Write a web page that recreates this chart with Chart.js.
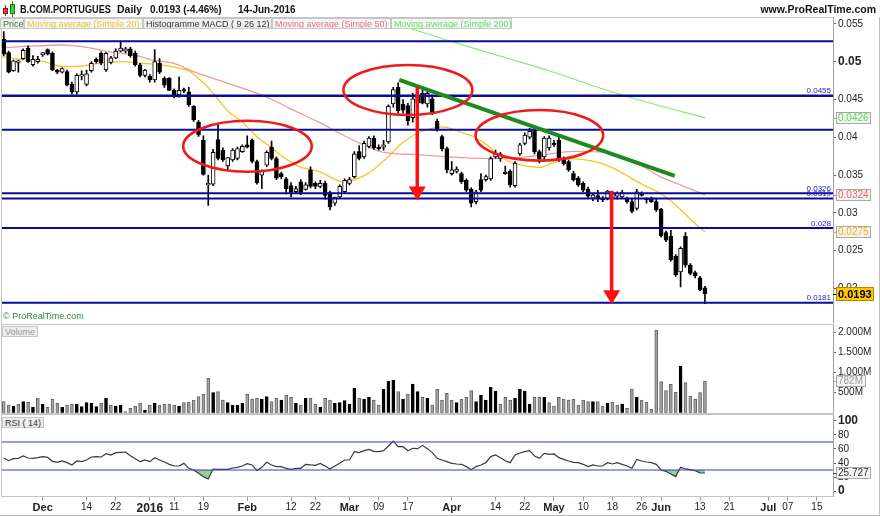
<!DOCTYPE html>
<html>
<head>
<meta charset="utf-8">
<script src="https://cdn.jsdelivr.net/npm/chart.js@4.4.1/dist/chart.umd.min.js"></script>
<style>
body { margin: 0; background: #fff; font-family: "Liberation Sans", Arial, sans-serif; }
#wrap { position: relative; width: 880px; height: 516px; overflow: hidden; background: #fff; }
canvas { position: absolute; left: 0; }
.t { position: absolute; white-space: nowrap; }
.title { top: 3px; font-size: 10.5px; font-weight: bold; line-height: 12px; color: #111; }
.lg { position: absolute; top: 18px; height: 11px; line-height: 10px; font-size: 9px; background: #efefef;
      border: 1px solid #c6c6c6; box-sizing: border-box; padding-left: 2px; overflow: hidden; white-space: nowrap; }
.tag { position: absolute; height: 11px; line-height: 10px; font-size: 9px; background: #ededed;
       border: 1px solid #c6c6c6; box-sizing: border-box; padding: 0 2px; white-space: nowrap; }
</style>
</head>
<body>
<div id="wrap">
  <canvas id="price" width="880" height="323" style="top:0"></canvas>
  <canvas id="volume" width="880" height="91" style="top:323px"></canvas>
  <canvas id="rsi" width="880" height="102" style="top:414px"></canvas>

  <div style="position:absolute;left:0;top:17px;width:880px;height:499px;border-right:1px solid #bcbcbc;border-bottom:1px solid #bcbcbc;box-sizing:border-box;pointer-events:none"></div>

  <!-- icon -->
  <div style="position:absolute;left:5px;top:5px;width:1px;height:11px;background:#a02020"></div>
  <div style="position:absolute;left:3px;top:8px;width:5px;height:6px;background:#e03c3c;border:1px solid #901818;box-sizing:border-box"></div>
  <div style="position:absolute;left:12px;top:1px;width:1px;height:16px;background:#1a8a1a"></div>
  <div style="position:absolute;left:10px;top:4px;width:5px;height:10px;background:#3ccf3c;border:1px solid #1a7a1a;box-sizing:border-box"></div>

  <div class="t title" style="left:20px;transform:scaleX(0.87);transform-origin:0 0">B.COM.PORTUGUES</div>
  <div class="t title" style="left:117px">Daily</div>
  <div class="t title" style="left:150px;transform:scaleX(0.95);transform-origin:0 0">0.0193 (-4.46%)</div>
  <div class="t title" style="left:238px;transform:scaleX(0.95);transform-origin:0 0">14-Jun-2016</div>
  <div class="t title" style="right:4px">www.ProRealTime.com</div>

  <div class="lg" style="left:0;width:24px;color:#3a7d3a">Price</div>
  <div class="lg" style="left:24px;width:119px;color:#f0bf2a;background:#f6f6f6">Moving average (Simple 20)</div>
  <div class="lg" style="left:143px;width:129px;color:#333">Histogramme MACD ( 9 26 12)</div>
  <div class="lg" style="left:272px;width:119px;color:#e57373;background:#f6f6f6">Moving average (Simple 50)</div>
  <div class="lg" style="left:391px;width:121px;color:#5fe05f;background:#f6f6f6">Moving average (Simple 200)</div>

  <div class="t" style="left:3px;top:311px;font-size:9px;color:#2e8b2e">© ProRealTime.com</div>
  <div class="tag" style="left:2px;top:326px;color:#9a9a9a">Volume</div>
  <div class="tag" style="left:2px;top:417px;color:#333">RSI ( 14)</div>
</div>

<script>
// ---- daily candles, 19-Nov-2015 .. 14-Jun-2016 (index = trading day) ----
var opens = [
  0.0530,0.0512,0.0488,0.0499,0.0504,0.0518,0.0496,0.0500,0.0509,0.0516,
  0.0511,0.0489,0.0486,0.0487,0.0470,0.0460,0.0481,0.0470,0.0488,0.0503,
  0.0511,0.0489,0.0499,0.0505,0.0514,0.0514,0.0517,0.0511,0.0496,0.0482,
  0.0481,0.0476,0.0498,0.0478,0.0478,0.0462,0.0456,0.0463,0.0460,0.0441,
  0.0420,0.0396,0.0337,0.0338,0.0397,0.0383,0.0362,0.0370,0.0372,0.0381,
  0.0390,0.0396,0.0368,0.0350,0.0363,0.0387,0.0372,0.0352,0.0345,0.0336,
  0.0328,0.0341,0.0331,0.0357,0.0339,0.0335,0.0339,0.0327,0.0313,0.0321,
  0.0328,0.0339,0.0348,0.0381,0.0374,0.0388,0.0399,0.0387,0.0387,0.0394,
  0.0444,0.0466,0.0444,0.0442,0.0426,0.0445,0.0458,0.0444,0.0451,0.0421,
  0.0401,0.0385,0.0352,0.0355,0.0352,0.0343,0.0331,0.0315,0.0344,0.0344,
  0.0345,0.0374,0.0372,0.0354,0.0355,0.0336,0.0378,0.0392,0.0400,0.0411,
  0.0381,0.0374,0.0386,0.0392,0.0396,0.0372,0.0368,0.0352,0.0346,0.0339,
  0.0331,0.0319,0.0323,0.0319,0.0319,0.0319,0.0322,0.0321,0.0319,0.0315,
  0.0306,0.0325,0.0318,0.0319,0.0315,0.0305,0.0274,0.0269,0.0243,0.0222,
  0.0269,0.0231,0.0221,0.0214,0.0201
];
var highs = [
  0.0540,0.0514,0.0502,0.0502,0.0517,0.0521,0.0508,0.0507,0.0512,0.0517,
  0.0513,0.0490,0.0492,0.0489,0.0473,0.0484,0.0488,0.0489,0.0500,0.0505,
  0.0513,0.0512,0.0507,0.0517,0.0526,0.0519,0.0519,0.0514,0.0498,0.0490,
  0.0483,0.0516,0.0504,0.0480,0.0479,0.0464,0.0480,0.0465,0.0466,0.0442,
  0.0422,0.0402,0.0350,0.0384,0.0416,0.0386,0.0373,0.0385,0.0387,0.0390,
  0.0402,0.0398,0.0370,0.0357,0.0382,0.0395,0.0374,0.0354,0.0347,0.0340,
  0.0335,0.0344,0.0340,0.0361,0.0341,0.0343,0.0342,0.0329,0.0321,0.0337,
  0.0345,0.0347,0.0381,0.0389,0.0395,0.0401,0.0402,0.0390,0.0396,0.0443,
  0.0466,0.0472,0.0450,0.0445,0.0458,0.0460,0.0462,0.0462,0.0456,0.0424,
  0.0403,0.0387,0.0368,0.0361,0.0354,0.0345,0.0333,0.0330,0.0352,0.0350,
  0.0374,0.0383,0.0380,0.0362,0.0357,0.0368,0.0392,0.0406,0.0412,0.0413,
  0.0383,0.0401,0.0402,0.0396,0.0400,0.0374,0.0370,0.0355,0.0348,0.0341,
  0.0334,0.0326,0.0330,0.0322,0.0330,0.0329,0.0328,0.0330,0.0321,0.0318,
  0.0331,0.0328,0.0320,0.0321,0.0318,0.0306,0.0276,0.0277,0.0245,0.0255,
  0.0274,0.0233,0.0223,0.0216,0.0203
];
var lows = [
  0.0508,0.0485,0.0487,0.0486,0.0503,0.0499,0.0494,0.0498,0.0507,0.0509,
  0.0488,0.0484,0.0485,0.0468,0.0457,0.0457,0.0476,0.0468,0.0486,0.0498,
  0.0496,0.0487,0.0497,0.0504,0.0513,0.0512,0.0506,0.0494,0.0480,0.0480,
  0.0473,0.0473,0.0484,0.0466,0.0462,0.0452,0.0453,0.0459,0.0441,0.0421,
  0.0401,0.0350,0.0310,0.0336,0.0370,0.0368,0.0356,0.0368,0.0370,0.0380,
  0.0386,0.0366,0.0338,0.0332,0.0361,0.0370,0.0344,0.0345,0.0325,0.0321,
  0.0326,0.0324,0.0330,0.0333,0.0332,0.0333,0.0318,0.0304,0.0310,0.0319,
  0.0326,0.0337,0.0346,0.0370,0.0372,0.0386,0.0384,0.0383,0.0383,0.0392,
  0.0440,0.0432,0.0432,0.0416,0.0420,0.0440,0.0444,0.0440,0.0430,0.0408,
  0.0382,0.0353,0.0350,0.0353,0.0339,0.0328,0.0308,0.0312,0.0328,0.0342,
  0.0343,0.0372,0.0368,0.0351,0.0334,0.0334,0.0376,0.0390,0.0398,0.0378,
  0.0366,0.0368,0.0383,0.0388,0.0368,0.0363,0.0355,0.0342,0.0335,0.0328,
  0.0319,0.0316,0.0315,0.0315,0.0317,0.0317,0.0318,0.0319,0.0313,0.0300,
  0.0304,0.0322,0.0313,0.0314,0.0302,0.0268,0.0262,0.0236,0.0216,0.0202,
  0.0228,0.0218,0.0214,0.0197,0.0180
];
var closes = [
  0.0510,0.0486,0.0501,0.0501,0.0515,0.0500,0.0503,0.0503,0.0512,0.0510,
  0.0489,0.0486,0.0491,0.0469,0.0460,0.0482,0.0483,0.0484,0.0498,0.0500,
  0.0498,0.0511,0.0505,0.0514,0.0518,0.0517,0.0508,0.0496,0.0482,0.0489,
  0.0476,0.0500,0.0486,0.0469,0.0462,0.0454,0.0462,0.0461,0.0443,0.0423,
  0.0403,0.0351,0.0339,0.0380,0.0372,0.0370,0.0373,0.0383,0.0385,0.0388,
  0.0387,0.0368,0.0340,0.0355,0.0380,0.0372,0.0346,0.0348,0.0332,0.0327,
  0.0332,0.0327,0.0337,0.0335,0.0335,0.0339,0.0323,0.0308,0.0321,0.0335,
  0.0343,0.0344,0.0378,0.0372,0.0392,0.0399,0.0386,0.0385,0.0390,0.0441,
  0.0463,0.0435,0.0436,0.0422,0.0451,0.0455,0.0445,0.0458,0.0433,0.0410,
  0.0385,0.0357,0.0357,0.0358,0.0341,0.0330,0.0313,0.0328,0.0330,0.0348,
  0.0372,0.0379,0.0378,0.0352,0.0337,0.0366,0.0390,0.0403,0.0408,0.0381,
  0.0371,0.0399,0.0399,0.0390,0.0370,0.0365,0.0357,0.0344,0.0337,0.0330,
  0.0322,0.0324,0.0319,0.0317,0.0329,0.0327,0.0326,0.0327,0.0315,0.0302,
  0.0328,0.0323,0.0317,0.0315,0.0304,0.0270,0.0264,0.0238,0.0218,0.0253,
  0.0231,0.0220,0.0217,0.0198,0.0193
];
// volume in thousands ("M" = milliers on the axis)
var volumes = [
  275,192,168,218,275,258,135,358,210,135, 335,235,135,192,210,210,150,250,235,150,
  235,358,192,168,185,25,108,168,235,68, 192,235,192,210,210,192,168,250,258,318,
  400,468,860,500,525,318,250,192,192,235, 468,343,358,343,400,275,358,318,443,385,
  235,192,358,358,210,135,358,318,235,250, 300,210,610,358,343,385,318,192,585,793,
  818,525,343,468,718,525,385,358,192,585, 318,485,318,250,335,385,550,275,443,318,
  635,543,218,385,318,358,585,543,218,385, 385,385,250,168,385,335,318,335,192,318,
  275,275,275,168,235,258,192,218,108,593, 385,318,258,85,2068,775,550,710,510,1168,
  750,418,335,500,782
];
var rsi = [
  47.1,43.3,46.2,46.7,50.0,47.1,46.7,47.6,49.1,48.1, 42.4,41.0,42.9,40.5,37.2,42.9,41.9,44.3,48.6,49.1,
  48.6,53.3,51.4,54.8,55.2,55.7,50.5,46.2,41.9,44.3, 41.9,47.6,44.3,41.4,38.1,35.7,35.7,39.5,32.4,30.0,
  25.3,20.5,17.1,31.4,31.0,31.0,31.0,32.9,33.8,35.7, 39.0,37.2,29.4,33.8,41.0,37.2,34.8,34.8,32.4,31.0,
  32.4,32.4,38.1,37.2,36.7,39.5,35.7,31.4,35.7,39.5, 44.3,44.3,56.2,54.8,57.6,59.5,56.7,56.2,57.6,64.3,
  71.4,63.3,63.3,57.6,61.0,60.5,65.2,60.5,54.8,46.7, 44.3,41.9,39.5,38.6,38.1,34.8,30.5,34.8,37.2,40.5,
  49.1,51.4,47.6,43.3,40.5,51.4,54.3,56.2,57.6,50.0, 46.7,53.8,52.4,52.9,47.6,45.2,42.9,41.0,40.5,38.1,
  34.8,37.2,35.7,35.7,40.5,38.6,40.5,38.1,35.7,32.4, 45.2,42.9,41.4,40.5,38.1,30.0,28.1,24.3,20.5,33.8,
  31.5,30.5,29.0,26.0,25.727
];
// moving averages: [trading day, price]
var ma20 = [
  [-0.5,0.0507],[3.3,0.0503],[7.4,0.0501],[9.5,0.0498],[11.6,0.0494],[15.7,0.0494],[19.8,0.0498],
  [23.9,0.0500],[28,0.0498],[32.1,0.0496],[36.2,0.0491],[38.2,0.0487],[40.3,0.0476],[42.4,0.0463],
  [44.4,0.0447],[46.5,0.0432],[48.5,0.0423],[50.6,0.0410],[52.6,0.0397],[54.7,0.0388],[56.7,0.0377],
  [58.8,0.0368],[60.8,0.0361],[65,0.0354],[69.7,0.0341],[74.5,0.0351],[78.6,0.0372],[81.4,0.0390],
  [84.8,0.0405],[88.9,0.0413],[91,0.0413],[93.7,0.0407],[96.4,0.0401],[99.2,0.0390],[101.9,0.0375],
  [104.6,0.0366],[107.4,0.0362],[110.1,0.0360],[112.8,0.0366],[115.6,0.0371],[118.3,0.0371],
  [122.4,0.0366],[125.9,0.0357],[129.3,0.0344],[132,0.0335],[134.8,0.0326],[137.5,0.0313],
  [140.2,0.0297],[142.3,0.0284],[144,0.0275]
];
var ma50 = [
  [-0.5,0.0518],[3.3,0.0520],[7.4,0.0521],[12.9,0.0522],[17,0.0519],[21.8,0.0513],[26.6,0.0509],
  [30.7,0.0502],[34.8,0.0498],[38.9,0.0487],[43,0.0478],[47.1,0.0469],[51.2,0.0460],[55.4,0.0449],
  [58.8,0.0438],[60.8,0.0432],[65,0.0419],[69.1,0.0405],[73.2,0.0392],[78,0.0380],[84.8,0.0377],
  [91.6,0.0374],[98.5,0.0372],[105.3,0.0373],[112.2,0.0378],[116,0.0381],[120.4,0.0381],
  [124.5,0.0379],[127.9,0.0372],[131.3,0.0361],[134.8,0.0348],[138.2,0.0339],[141.6,0.0330],[144,0.0324]
];
var ma200 = [
  [79.3,0.05525],[91.6,0.05274],[101.9,0.05075],[112.2,0.04877],[122.4,0.04652],[132.7,0.04454],[144,0.0426]
];

// drawn objects
var levels = [0.0527, 0.0455, 0.041, 0.0326, 0.0319, 0.028, 0.0181];
var levelText = ['', '0.0455', '', '0.0326', '0.0319', '0.028', '0.0181'];
var trend = [[81.2, 0.0476], [137.8, 0.0349]];
// [centre day, centre price, radius in days, radius in price]
var ellipses = [[50.05, 0.03882, 13.2, 0.00337], [83.0, 0.04626, 13.24, 0.00331], [110.0, 0.04026, 13.1, 0.00335]];
// [day, from price, to price]
var arrows = [[84.92, 0.04669, 0.03164], [124.84, 0.0329, 0.01791]];

var priceTicks = [0.02, 0.025, 0.03, 0.035, 0.04, 0.045, 0.05, 0.055];
var volumeTicks = [500, 1000, 1500, 2000];
var rsiTicks = [0, 20, 40, 60, 80, 100];
var rsiBands = [70, 30];
var dateTicks = [8,17,23,30,35,41,50,59,64,71,77,83,92,101,107,113,119,125,131,135,143,149,157,161,167];
var dateText = ['Dec','14','22','2016','11','19','Feb','12','22','Mar','09','17','Apr','14','22','May','10','18','26','Jun','13','21','Jul','07','15'];

var X_MIN = -0.36, X_MAX = 170.3;
var FONT = "'Liberation Sans', Arial, sans-serif";
Chart.defaults.font.family = FONT;

function last(a) { return a[a.length - 1]; }
function pts(pairs) { return pairs.map(function (p) { return { x: p[0], y: p[1] }; }); }
function fmtVol(v) {
  return v >= 1000 ? Math.floor(v / 1000) + '.' + String(Math.round(v % 1000)).padStart(3, '0') + 'M' : Math.round(v) + 'M';
}
function isUp(i) { return i === 0 ? closes[0] > opens[0] : closes[i] > closes[i - 1]; }

function rightAxisFit(s) { s.width = 47; s.paddingTop = 0; s.paddingBottom = 0; }

var xHidden = { type: 'linear', min: X_MIN, max: X_MAX, offset: false, display: false };

var framePlugin = {
  id: 'frame',
  beforeDraw: function (chart) {
    var a = chart.chartArea, ctx = chart.ctx;
    ctx.save();
    ctx.strokeStyle = '#c4c4c4';
    ctx.lineWidth = 1;
    ctx.strokeRect(Math.round(a.left) - 0.5, Math.round(a.top) - 0.5, Math.round(a.right - a.left) + 1, Math.round(a.bottom - a.top) + 1);
    ctx.restore();
  }
};

function valueBoxes(items) {
  return {
    id: 'valueBoxes',
    afterDraw: function (chart) {
      var ctx = chart.ctx, y = chart.scales.y, a = chart.chartArea;
      items.forEach(function (b) {
        var py = Math.round(y.getPixelForValue(b.value));
        ctx.save();
        ctx.font = b.font || ('10px ' + FONT);
        var w = Math.ceil(ctx.measureText(b.text).width) + 4, h = b.h || 12;
        var x0 = Math.round(a.right) + 3;
        ctx.fillStyle = b.bg;
        ctx.fillRect(x0, py - h / 2, w, h);
        ctx.strokeStyle = b.border;
        ctx.lineWidth = 1;
        ctx.strokeRect(x0 + 0.5, py - h / 2 + 0.5, w - 1, h - 1);
        ctx.strokeStyle = b.color;
        ctx.beginPath(); ctx.moveTo(a.right, py + 0.5); ctx.lineTo(x0, py + 0.5); ctx.stroke();
        ctx.fillStyle = b.color;
        ctx.textBaseline = 'middle';
        ctx.fillText(b.text, x0 + 2, py + 0.5);
        ctx.restore();
      });
    }
  };
}

var drawings = {
  id: 'drawings',
  afterDatasetsDraw: function (chart) {
    var ctx = chart.ctx, x = chart.scales.x, y = chart.scales.y, a = chart.chartArea;
    ctx.save();
    ctx.beginPath(); ctx.rect(a.left, a.top, a.right - a.left, a.bottom - a.top); ctx.clip();

    // level labels
    ctx.font = '8px ' + FONT;
    ctx.fillStyle = '#2424b4';
    ctx.textAlign = 'right';
    ctx.textBaseline = 'alphabetic';
    levels.forEach(function (v, k) {
      if (levelText[k]) ctx.fillText(levelText[k], a.right - 2, y.getPixelForValue(v) - 2.5);
    });

    // ellipses
    ctx.strokeStyle = '#ee1b1b';
    ctx.lineWidth = 2.6;
    ellipses.forEach(function (e) {
      var cx = x.getPixelForValue(e[0]), cy = y.getPixelForValue(e[1]);
      var rx = x.getPixelForValue(e[0] + e[2]) - cx, ry = cy - y.getPixelForValue(e[1] + e[3]);
      ctx.beginPath(); ctx.ellipse(cx, cy, rx, ry, 0, 0, Math.PI * 2); ctx.stroke();
    });

    // arrows
    ctx.fillStyle = '#ff1010';
    arrows.forEach(function (r) {
      var ax = x.getPixelForValue(r[0]), y0 = y.getPixelForValue(r[1]), y1 = y.getPixelForValue(r[2]);
      ctx.fillRect(ax - 1.75, y0, 3.5, y1 - y0 - 12);
      ctx.beginPath();
      ctx.moveTo(ax - 8.5, y1 - 14); ctx.lineTo(ax + 8.5, y1 - 14); ctx.lineTo(ax, y1);
      ctx.closePath(); ctx.fill();
    });
    ctx.restore();
  }
};

var common = {
  responsive: false, animation: false, devicePixelRatio: 1, events: [],
  plugins: { legend: { display: false }, tooltip: { enabled: false } }
};

function yRight(min, max, ticks, label, font) {
  return {
    type: 'linear', position: 'right', min: min, max: max,
    afterFit: rightAxisFit,
    afterBuildTicks: function (s) { s.ticks = ticks.map(function (v) { return { value: v }; }); },
    grid: { drawOnChartArea: false, tickLength: 3, tickColor: '#666' },
    border: { display: true, color: '#a0a0a0' },
    ticks: { padding: 2, color: '#222', autoSkip: false, callback: label, font: font }
  };
}

// ---------- price ----------
var datasets = [];
levels.forEach(function (v, k) {
  datasets.push({
    type: 'line', data: [{ x: X_MIN, y: v }, { x: X_MAX, y: v }],
    borderColor: '#0b0b99', borderWidth: k === 1 ? 2.5 : 2, pointRadius: 0, order: 2
  });
});
datasets.push({ type: 'line', data: pts(ma200), borderColor: '#7ef06a', borderWidth: 1.2, pointRadius: 0, tension: 0.3, order: 6 });
datasets.push({ type: 'line', data: pts(ma50), borderColor: 'rgba(232,110,110,0.7)', borderWidth: 1.3, pointRadius: 0, tension: 0.3, order: 6 });
datasets.push({ type: 'line', data: pts(ma20), borderColor: '#ffc21c', borderWidth: 1.3, pointRadius: 0, tension: 0.3, order: 6 });
datasets.push({
  type: 'bar', grouped: false, barThickness: 1, order: 4, backgroundColor: '#000', borderWidth: 0,
  data: opens.map(function (o, i) { return { x: i, y: [lows[i], highs[i]] }; })
});
datasets.push({
  type: 'bar', grouped: false, barThickness: 4, order: 3, minBarLength: 1,
  borderWidth: 1, borderSkipped: false, borderColor: '#000',
  backgroundColor: function (c) { var i = c.dataIndex; return closes[i] >= opens[i] ? '#fff' : '#000'; },
  data: opens.map(function (o, i) { return { x: i, y: [o, closes[i]] }; })
});
datasets.push({ type: 'line', data: pts(trend), borderColor: '#1d8a1d', borderWidth: 4, pointRadius: 0, order: 1 });

new Chart(document.getElementById('price'), {
  type: 'bar',
  data: { datasets: datasets },
  options: Object.assign({}, common, {
    layout: { autoPadding: false, padding: { left: 2, top: 18, bottom: 0.5, right: 0 } },
    scales: {
      x: xHidden,
      y: yRight(0.0155, 0.05578, priceTicks, function (v) { return String(v); }, function (c) {
        return c.tick && c.tick.value === 0.05 ? { family: FONT, size: 12, weight: 'bold' } : { family: FONT, size: 10 };
      })
    }
  }),
  plugins: [framePlugin, drawings, valueBoxes([
    { value: last(ma200)[1], text: last(ma200)[1].toFixed(4), color: '#4fdc4f', bg: '#f3f3f3', border: '#a8a8a8' },
    { value: last(ma50)[1], text: last(ma50)[1].toFixed(4), color: '#e46a6a', bg: '#f3f3f3', border: '#a8a8a8' },
    { value: last(ma20)[1], text: last(ma20)[1].toFixed(4), color: '#f0b400', bg: '#f3f3f3', border: '#a8a8a8' },
    { value: last(closes), text: last(closes).toFixed(4), color: '#000', bg: '#ffc800', border: '#b08a00', font: 'bold 11px ' + FONT, h: 14 }
  ])]
});

// ---------- volume ----------
new Chart(document.getElementById('volume'), {
  type: 'bar',
  data: {
    datasets: [{
      grouped: false, barThickness: 3, borderWidth: 1, borderSkipped: false,
      backgroundColor: function (c) { return isUp(c.dataIndex) ? '#000' : '#a4a4a4'; },
      borderColor: function (c) { return isUp(c.dataIndex) ? '#000' : '#666'; },
      data: volumes.map(function (v, i) { return { x: i, y: v }; })
    }]
  },
  options: Object.assign({}, common, {
    layout: { autoPadding: false, padding: { left: 2, top: 2, bottom: 1.3, right: 0 } },
    scales: {
      x: xHidden,
      y: yRight(0, 2192, volumeTicks, fmtVol, { family: FONT, size: 10 })
    }
  }),
  plugins: [framePlugin, valueBoxes([
    { value: last(volumes), text: fmtVol(last(volumes)), color: '#9a9a9a', bg: '#f3f3f3', border: '#a8a8a8' }
  ])]
});

// ---------- RSI ----------
var rsiSets = rsiBands.map(function (v) {
  return { data: [{ x: X_MIN, y: v }, { x: X_MAX, y: v }], borderColor: '#3434dc', borderWidth: 1, pointRadius: 0 };
});
rsiSets.push({
  data: rsi.map(function (v, i) { return { x: i, y: v }; }),
  borderColor: '#3a3a3a', borderWidth: 1.2, pointRadius: 0,
  fill: { target: { value: 30 }, above: 'rgba(0,0,0,0)', below: 'rgba(120,196,120,0.8)' }
});

new Chart(document.getElementById('rsi'), {
  type: 'line',
  data: { datasets: rsiSets },
  options: Object.assign({}, common, {
    layout: { autoPadding: false, padding: { left: 2, top: 1.3, bottom: 0, right: 0 } },
    scales: {
      x: {
        type: 'linear', position: 'bottom', min: X_MIN, max: X_MAX, offset: false,
        afterFit: function (s) { s.height = 19.3; s.paddingLeft = 0; s.paddingRight = 0; },
        afterBuildTicks: function (s) { s.ticks = dateTicks.map(function (v) { return { value: v }; }); },
        grid: { drawOnChartArea: false, tickLength: 4, tickColor: '#999' },
        border: { display: true, color: '#c4c4c4' },
        ticks: {
          autoSkip: false, maxRotation: 0, padding: 1, color: '#222',
          callback: function (v, k) { return dateText[k]; },
          font: function (c) {
            var t = dateText[c.index] || '';
            if (t === '2016') return { family: FONT, size: 12, weight: 'bold' };
            return /^[A-Z]/.test(t) ? { family: FONT, size: 11, weight: 'bold' } : { family: FONT, size: 10 };
          }
        }
      },
      y: yRight(-8.14, 108.14, rsiTicks, function (v) { return String(v); }, function (c) {
        var v = c.tick && c.tick.value;
        return v === 0 || v === 100 ? { family: FONT, size: 12, weight: 'bold' } : { family: FONT, size: 10 };
      })
    }
  }),
  plugins: [framePlugin, valueBoxes([
    { value: last(rsi), text: last(rsi).toFixed(3), color: '#333', bg: '#f3f3f3', border: '#a8a8a8' }
  ])]
});
</script>
</body>
</html>
